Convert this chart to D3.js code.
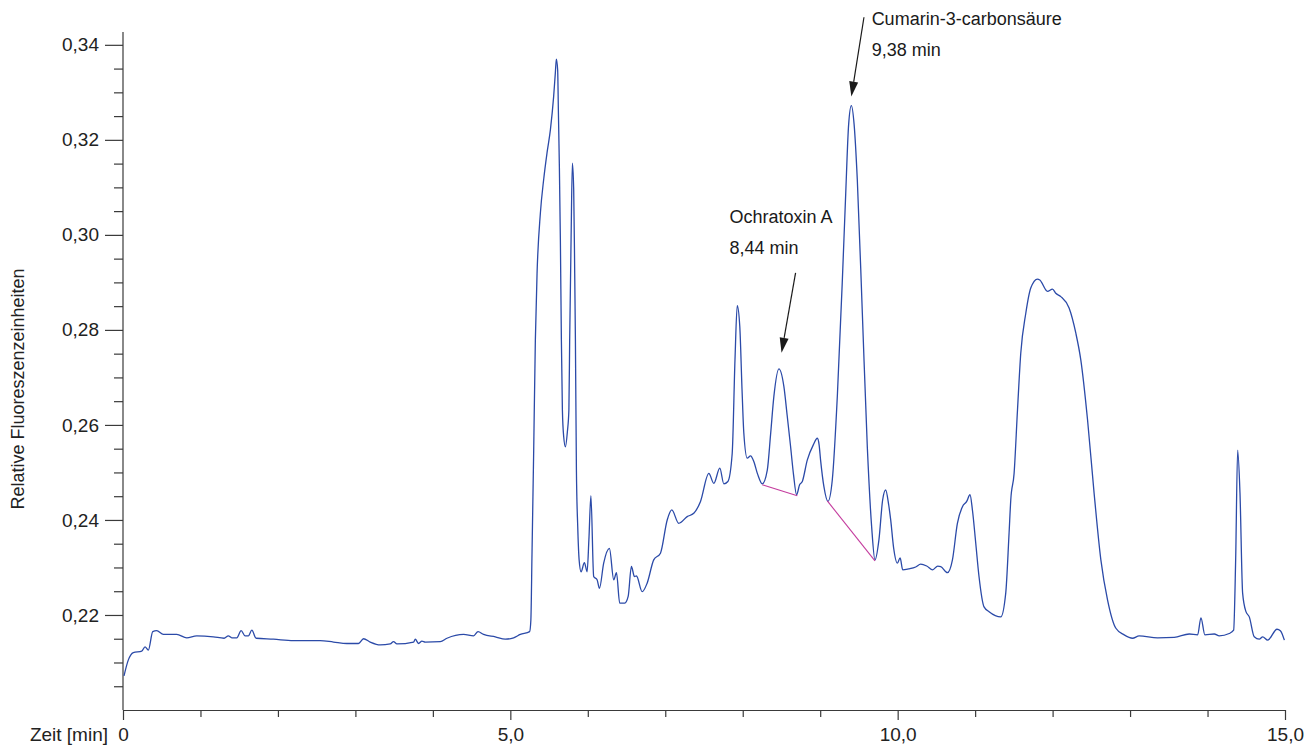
<html>
<head>
    <meta charset="UTF-8">
    <title>Chromatogramm Ochratoxin A</title>
    <script src="https://cdn.jsdelivr.net/npm/d3@7"></script>
    <style>
        body { margin: 0; background: #fff; }
        svg { font-family: "Liberation Sans", Arial, sans-serif; }
        .trace { fill: none; stroke: #2b4aa8; stroke-width: 1.3px; stroke-linejoin: round; }
        .base { fill: none; stroke: #c43c9e; stroke-width: 1.1px; }
        .axis path, .axis line { stroke: #3a3a3a; stroke-width: 1.2px; }
        .axis text { fill: #222; font-size: 19px; }
        .note { fill: #1a1a1a; font-size: 18px; }
    </style>
</head>
<body>
    <svg width="1309" height="746"></svg>
    <script>
        // Retentionszeit [min] und Signal (relative Fluoreszenz)
        var timeMin = [
            0.013, 0.068, 0.133, 0.242, 0.284, 0.327, 0.384, 0.435, 0.521, 0.694,
            0.823, 0.952, 1.167, 1.305, 1.360, 1.404, 1.469, 1.525, 1.576, 1.619,
            1.663, 1.718, 1.942, 2.200, 2.545, 2.717, 2.890, 3.040, 3.105, 3.191,
            3.320, 3.450, 3.492, 3.536, 3.751, 3.773, 3.815, 3.859, 3.902, 4.096,
            4.182, 4.397, 4.526, 4.583, 4.655, 4.806, 4.935, 5.043, 5.129, 5.249,
            5.265, 5.280, 5.301, 5.323, 5.345, 5.388, 5.430, 5.474, 5.517, 5.559,
            5.581, 5.594, 5.611, 5.620, 5.633, 5.646, 5.659, 5.672, 5.689, 5.711,
            5.736, 5.756, 5.766, 5.784, 5.801, 5.818, 5.831, 5.840, 5.853, 5.870,
            5.888, 5.913, 5.956, 5.991, 6.014, 6.040, 6.076, 6.120, 6.150, 6.205,
            6.279, 6.335, 6.370, 6.412, 6.477, 6.521, 6.563, 6.602, 6.628, 6.702,
            6.766, 6.851, 6.938, 7.025, 7.084, 7.174, 7.283, 7.368, 7.455, 7.562,
            7.627, 7.704, 7.756, 7.808, 7.864, 7.900, 7.929, 7.962, 7.991, 8.014,
            8.058, 8.101, 8.143, 8.191, 8.252, 8.317, 8.359, 8.402, 8.467, 8.531,
            8.573, 8.618, 8.656, 8.695, 8.734, 8.769, 8.833, 8.911, 8.963, 8.986,
            9.005, 9.048, 9.100, 9.156, 9.221, 9.286, 9.328, 9.367, 9.402, 9.438,
            9.479, 9.544, 9.608, 9.664, 9.707, 9.758, 9.806, 9.845, 9.884, 9.910,
            9.948, 9.996, 10.032, 10.065, 10.142, 10.233, 10.297, 10.375, 10.452, 10.517,
            10.556, 10.642, 10.707, 10.771, 10.836, 10.891, 10.934, 10.965, 11.008, 11.050,
            11.115, 11.180, 11.331, 11.395, 11.438, 11.460, 11.503, 11.547, 11.589, 11.654,
            11.718, 11.805, 11.835, 11.934, 11.999, 12.041, 12.106, 12.213, 12.300, 12.364,
            12.451, 12.536, 12.623, 12.709, 12.817, 12.924, 13.032, 13.117, 13.355, 13.570,
            13.764, 13.872, 13.915, 13.966, 14.087, 14.151, 14.280, 14.337, 14.363, 14.389,
            14.419, 14.453, 14.496, 14.539, 14.603, 14.668, 14.712, 14.777, 14.897, 14.940,
            14.992
        ];
        var signal = [
            0.2072, 0.2105, 0.2121, 0.2124, 0.2133, 0.2126, 0.2165, 0.2167, 0.2159, 0.2159,
            0.2152, 0.2156, 0.2154, 0.2151, 0.2156, 0.2152, 0.2152, 0.2167, 0.2156, 0.2156,
            0.2168, 0.2151, 0.2149, 0.2146, 0.2146, 0.2143, 0.2140, 0.2140, 0.2150, 0.2143,
            0.2137, 0.2139, 0.2144, 0.2139, 0.2143, 0.2149, 0.2140, 0.2145, 0.2143, 0.2144,
            0.2151, 0.2159, 0.2156, 0.2165, 0.2159, 0.2154, 0.2149, 0.2152, 0.2159, 0.2165,
            0.2189, 0.2331, 0.2541, 0.2779, 0.2919, 0.3046, 0.3116, 0.3173, 0.3221, 0.3291,
            0.3341, 0.3370, 0.3347, 0.3263, 0.3144, 0.2989, 0.2779, 0.2632, 0.2575, 0.2554,
            0.2585, 0.2632, 0.2779, 0.2989, 0.3151, 0.3095, 0.2920, 0.2779, 0.2505, 0.2386,
            0.2316, 0.2291, 0.2310, 0.2291, 0.2358, 0.2451, 0.2281, 0.2274, 0.2256, 0.2309,
            0.2340, 0.2274, 0.2289, 0.2225, 0.2225, 0.2239, 0.2302, 0.2281, 0.2282, 0.2249,
            0.2267, 0.2316, 0.2330, 0.2400, 0.2421, 0.2393, 0.2407, 0.2414, 0.2439, 0.2498,
            0.2477, 0.2509, 0.2476, 0.2481, 0.2540, 0.2737, 0.2851, 0.2807, 0.2674, 0.2583,
            0.2530, 0.2535, 0.2523, 0.2497, 0.2476, 0.2505, 0.2579, 0.2660, 0.2718, 0.2681,
            0.2621, 0.2554, 0.2495, 0.2453, 0.2474, 0.2481, 0.2526, 0.2558, 0.2572, 0.2558,
            0.2526, 0.2470, 0.2439, 0.2484, 0.2660, 0.2905, 0.3081, 0.3232, 0.3272, 0.3232,
            0.3116, 0.2835, 0.2554, 0.2386, 0.2316, 0.2358, 0.2442, 0.2463, 0.2432, 0.2400,
            0.2341, 0.2309, 0.2320, 0.2295, 0.2297, 0.2301, 0.2307, 0.2303, 0.2295, 0.2303,
            0.2302, 0.2289, 0.2316, 0.2393, 0.2428, 0.2439, 0.2453, 0.2421, 0.2351, 0.2281,
            0.2217, 0.2207, 0.2196, 0.2246, 0.2372, 0.2442, 0.2498, 0.2632, 0.2751, 0.2835,
            0.2888, 0.2907, 0.2905, 0.2881, 0.2886, 0.2877, 0.2870, 0.2846, 0.2793, 0.2737,
            0.2611, 0.2456, 0.2316, 0.2232, 0.2172, 0.2158, 0.2151, 0.2156, 0.2152, 0.2153,
            0.2160, 0.2158, 0.2194, 0.2158, 0.2160, 0.2156, 0.2161, 0.2168, 0.2316, 0.2547,
            0.2456, 0.2246, 0.2207, 0.2196, 0.2154, 0.2149, 0.2154, 0.2147, 0.2170, 0.2167,
            0.2147
        ];

        // Integrations-Basislinien (Start-/Endpunkt: Zeit, Signal)
        var baseStart = [[8.252, 0.2474], [9.092, 0.2440]];
        var baseEnd   = [[8.704, 0.2451], [9.707, 0.2314]];

        // Peak-Beschriftungen
        var noteLines = [["Ochratoxin A", "8,44 min"], ["Cumarin-3-carbonsäure", "9,38 min"]];
        var noteTip   = [[8.501, 0.2752], [9.402, 0.3291]];   // Pfeilspitze
        var noteTail  = [[8.682, 0.2920], [9.565, 0.3458]];   // Pfeilende
        var noteText  = [[7.83, 0.3025], [9.664, 0.3442]];    // erste Textzeile

        var yMajor = [0.22, 0.24, 0.26, 0.28, 0.30, 0.32, 0.34];
        var xMajor = [0, 5, 10, 15];
        var xLabels = ["0", "5,0", "10,0", "15,0"];

        var svg = d3.select('svg');
        var x = d3.scaleLinear().domain([0, 15]).range([123, 1285]),
            y = d3.scaleLinear().domain([0.20, 0.3427]).range([710, 32]);

        var yMinor = d3.range(0.205, 0.3426, 0.005).filter(v => yMajor.every(m => Math.abs(m - v) > 1e-6));
        var xMinor = d3.range(1, 15).filter(v => xMajor.indexOf(v) < 0);

        var comma = v => d3.format('.2f')(v).replace('.', ',');

        // y-Achse
        svg.append('g').attr('class', 'axis')
            .attr('transform', 'translate(123,0)')
            .call(d3.axisLeft(y).tickValues(yMinor).tickSize(9).tickSizeOuter(0).tickFormat(''))
            .select('.domain').remove();
        var yAxis = svg.append('g').attr('class', 'axis')
            .attr('transform', 'translate(123,0)')
            .call(d3.axisLeft(y).tickValues(yMajor).tickSize(18).tickSizeOuter(0).tickPadding(6).tickFormat(comma));
        yAxis.select('.domain').attr('d', 'M0,' + y.range()[0] + 'V' + y.range()[1]);

        // x-Achse
        svg.append('g').attr('class', 'axis')
            .attr('transform', 'translate(0,710)')
            .call(d3.axisBottom(x).tickValues(xMinor).tickSize(7).tickSizeOuter(0).tickFormat(''))
            .select('.domain').remove();
        var xAxis = svg.append('g').attr('class', 'axis')
            .attr('transform', 'translate(0,710)')
            .call(d3.axisBottom(x).tickValues(xMajor).tickSize(10).tickSizeOuter(0).tickFormat((d, i) => xLabels[i]));
        xAxis.selectAll('text').attr('y', 31).attr('dy', null);

        svg.append('text').attr('class', 'axis')
            .attr('x', 108).attr('y', 741)
            .attr('text-anchor', 'end')
            .style('font-size', '19px').attr('fill', '#222')
            .text('Zeit [min]');

        svg.append('text')
            .attr('transform', 'translate(24,389) rotate(-90)')
            .attr('text-anchor', 'middle')
            .style('font-size', '18px').attr('fill', '#222')
            .text('Relative Fluoreszenzeinheiten');

        // Chromatogramm
        var pts = timeMin.map((t, i) => [t, signal[i]]);
        var line = d3.line()
            .curve(d3.curveMonotoneX)
            .x(d => x(d[0]))
            .y(d => y(d[1]));
        svg.append('path').attr('class', 'trace').attr('d', line(pts));

        // Basislinien
        svg.selectAll('.base').data(baseStart).enter()
            .append('line').attr('class', 'base')
            .attr('x1', d => x(d[0])).attr('y1', d => y(d[1]))
            .attr('x2', (d, i) => x(baseEnd[i][0])).attr('y2', (d, i) => y(baseEnd[i][1]));

        // Pfeile + Text
        noteLines.forEach((lines, i) => {
            var x0 = x(noteTail[i][0]), y0 = y(noteTail[i][1]),
                x1 = x(noteTip[i][0]), y1 = y(noteTip[i][1]);
            var len = Math.hypot(x1 - x0, y1 - y0), ux = (x1 - x0) / len, uy = (y1 - y0) / len;
            var hl = 15, hw = 4.5;
            var bx = x1 - ux * hl, by = y1 - uy * hl;
            svg.append('line')
                .attr('x1', x0).attr('y1', y0).attr('x2', bx).attr('y2', by)
                .attr('stroke', '#1a1a1a').attr('stroke-width', 1.2);
            svg.append('path')
                .attr('d', 'M' + x1 + ',' + y1 + 'L' + (bx - uy * hw) + ',' + (by + ux * hw) +
                           'L' + (bx + uy * hw) + ',' + (by - ux * hw) + 'Z')
                .attr('fill', '#1a1a1a');
            lines.forEach((s, k) => {
                svg.append('text').attr('class', 'note')
                    .attr('x', x(noteText[i][0]))
                    .attr('y', y(noteText[i][1]) + k * 31)
                    .text(s);
            });
        });
    </script>
</body>
</html>
